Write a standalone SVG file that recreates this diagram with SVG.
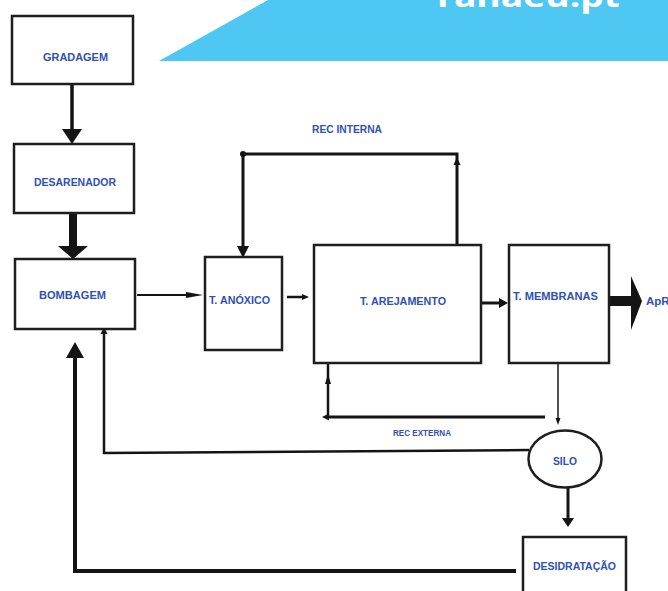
<svg xmlns="http://www.w3.org/2000/svg" width="668" height="591" viewBox="0 0 668 591">
<style>
.box{fill:#fff;stroke:#1e1e1e;stroke-width:2.5}
.lbl{font-family:"Liberation Sans",Arial,sans-serif;font-weight:bold;font-size:11.5px;fill:#3050b4;text-anchor:middle}
.ln{fill:none;stroke:#141414;stroke-linejoin:miter}
.hd{fill:#141414}
</style>
<rect width="668" height="591" fill="#fff"/>
<g id="banner">
<polygon points="159,61 268,0 668,0 668,61" fill="#4fc7f3"/>
<text x="437" y="7" font-family="'Open Sans',sans-serif" font-weight="bold" font-size="28" fill="#fff" textLength="183" lengthAdjust="spacingAndGlyphs">ranaeu.pt</text>
</g>
<g id="connectors">
<line class="ln" x1="72" y1="84" x2="72" y2="131" stroke-width="3.5"/>
<polygon class="hd" points="62,129 82,129 72,144"/>
<line class="ln" x1="73" y1="213" x2="73" y2="248" stroke-width="8"/>
<polygon class="hd" points="58,246 88,246 73,259"/>
<line class="ln" x1="137" y1="295" x2="190" y2="295" stroke-width="2" stroke="#333"/>
<polygon class="hd" points="186,292 203,295 186,298"/>
<line class="ln" x1="287" y1="297" x2="304" y2="297" stroke-width="2.5"/>
<polygon class="hd" points="302,294 309,297 302,300"/>
<path class="ln" d="M457,244 V154 H243 V248" stroke-width="3"/>
<polygon class="hd" points="237,246 249,246 243,258"/>
<circle class="hd" cx="243" cy="154" r="3"/>
<polygon class="hd" points="453.5,165 460.5,165 457,157"/>
<line class="ln" x1="481" y1="303" x2="502" y2="303" stroke-width="3"/>
<polygon class="hd" points="499,298 508,303 499,308"/>
<rect class="hd" x="610" y="296" width="24" height="10"/>
<polygon class="hd" points="631,276 642,301 631,330"/>
<line class="ln" x1="558" y1="363" x2="558" y2="420" stroke-width="1.5"/>
<polygon class="hd" points="555.5,418 560.5,418 558,425"/>
<path class="ln" d="M545,417 H326" stroke-width="3"/>
<polygon class="hd" points="329,413.5 329,420.5 322,417"/>
<line class="ln" x1="328" y1="417" x2="328" y2="364" stroke-width="2.5"/>
<polygon class="hd" points="325,384 331,384 328,374"/>
<path class="ln" d="M529,450 L104,453 V331" stroke-width="2.5"/>
<polygon class="hd" points="100.5,334 107.5,334 104,327"/>
<line class="ln" x1="568" y1="488" x2="568" y2="519" stroke-width="3"/>
<polygon class="hd" points="562,518 574,518 568,527"/>
<path class="ln" d="M516,571 H75 V355" stroke-width="4"/>
<polygon class="hd" points="66,358 84,358 75,342"/>
</g>
<g id="rec-interna-label"><text class="lbl" x="347" y="133" textLength="70" lengthAdjust="spacingAndGlyphs">REC INTERNA</text></g>
<g id="rec-externa-label"><text class="lbl" x="422" y="436" font-size="9" style="font-size:9px" textLength="58" lengthAdjust="spacingAndGlyphs">REC EXTERNA</text></g>
<g id="gradagem"><rect class="box" x="12" y="16" width="121" height="68"/><text class="lbl" x="75.5" y="61" textLength="65" lengthAdjust="spacingAndGlyphs">GRADAGEM</text></g>
<g id="desarenador"><rect class="box" x="14" y="144" width="120" height="69"/><text class="lbl" x="75" y="186" textLength="82" lengthAdjust="spacingAndGlyphs">DESARENADOR</text></g>
<g id="bombagem"><rect class="box" x="15" y="259" width="120" height="70"/><text class="lbl" x="72.5" y="299" textLength="67" lengthAdjust="spacingAndGlyphs">BOMBAGEM</text></g>
<g id="t-anoxico"><rect class="box" x="205" y="257" width="77" height="93"/><text class="lbl" x="239.5" y="304" textLength="61" lengthAdjust="spacingAndGlyphs">T. ANÓXICO</text></g>
<g id="t-arejamento"><rect class="box" x="314" y="245" width="167" height="118"/><text class="lbl" x="403" y="305" textLength="86" lengthAdjust="spacingAndGlyphs">T. AREJAMENTO</text></g>
<g id="t-membranas"><rect class="box" x="509" y="245" width="100" height="118"/><text class="lbl" x="555.5" y="300" textLength="85" lengthAdjust="spacingAndGlyphs">T. MEMBRANAS</text></g>
<g id="apr"><text class="lbl" x="646" y="305" style="text-anchor:start">ApR</text></g>
<g id="silo"><ellipse class="box" cx="565" cy="459" rx="36.5" ry="28.5"/><text class="lbl" x="565" y="465" textLength="24" lengthAdjust="spacingAndGlyphs">SILO</text></g>
<g id="desidratacao"><rect class="box" x="523" y="537" width="103" height="70"/><text class="lbl" x="574.5" y="570" textLength="83" lengthAdjust="spacingAndGlyphs">DESIDRATAÇÃO</text></g>
</svg>
